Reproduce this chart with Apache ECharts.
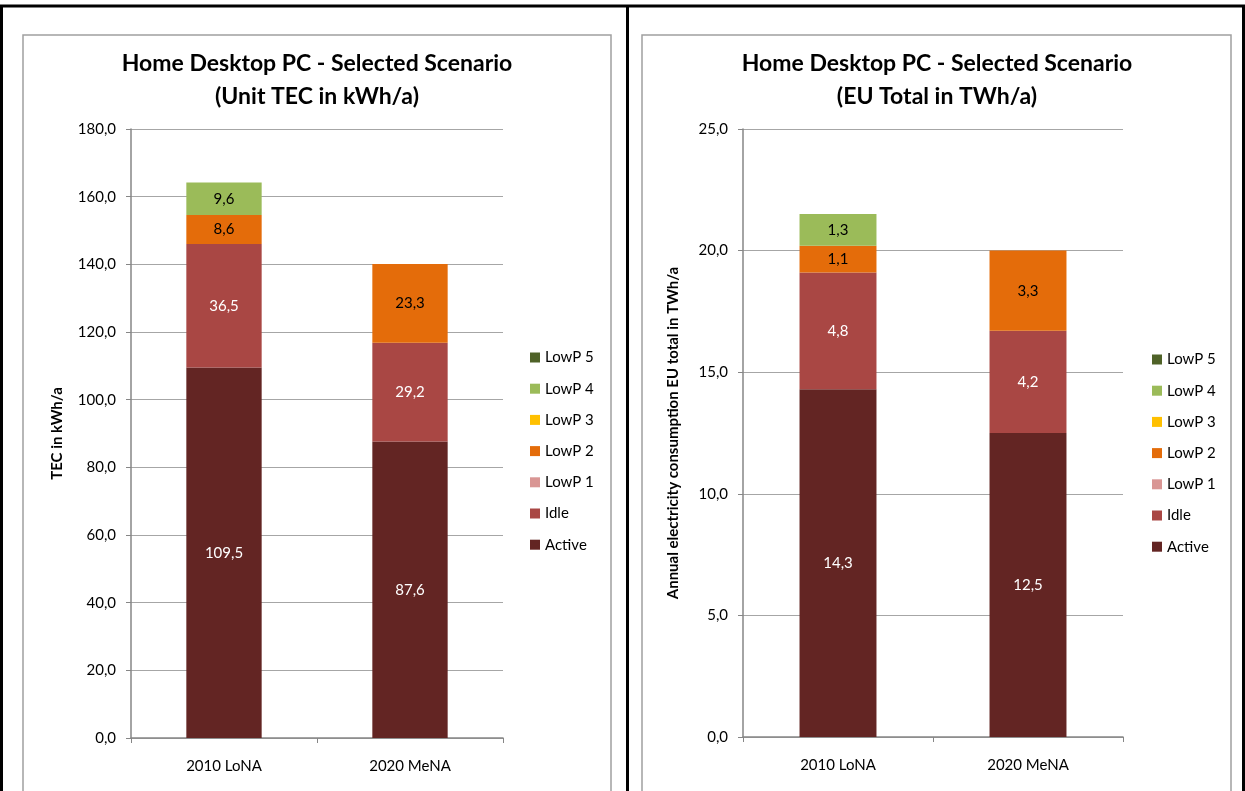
<!DOCTYPE html>
<html>
<head>
<meta charset="utf-8">
<script src="https://cdn.jsdelivr.net/npm/echarts@6/dist/echarts.min.js"></script>
<style>
  html, body { margin: 0; padding: 0; background: #fff; }
  #main { width: 1245px; height: 791px; }
</style>
</head>
<body>
<div id="main"></div>
<script>
// Scenario categories
const categories = ['2010 LoNA', '2020 MeNA'];

// Unit TEC in kWh/a per mode (bottom to top of each stack)
const unitActive = [109.5, 87.6];
const unitIdle   = [36.5, 29.2];
const unitLowP1  = [null, null];
const unitLowP2  = [8.6, 23.3];
const unitLowP3  = [null, null];
const unitLowP4  = [9.6, null];
const unitLowP5  = [null, null];

// EU total in TWh/a per mode
const euActive = [14.3, 12.5];
const euIdle   = [4.8, 4.2];
const euLowP1  = [null, null];
const euLowP2  = [1.1, 3.3];
const euLowP3  = [null, null];
const euLowP4  = [1.3, null];
const euLowP5  = [null, null];

// Axis ranges
const unitAxis = { min: 0, max: 180, interval: 20 };
const euAxis   = { min: 0, max: 25, interval: 5 };

const modeNames  = ['Active', 'Idle', 'LowP 1', 'LowP 2', 'LowP 3', 'LowP 4', 'LowP 5'];
const modeColors = ['#632523', '#A94744', '#D99694', '#E46C0A', '#FFC000', '#9BBB59', '#4F6228'];
const labelColors = ['#ffffff', '#ffffff', '#000000', '#000000', '#000000', '#000000', '#ffffff'];
const legendOrder = ['LowP 5', 'LowP 4', 'LowP 3', 'LowP 2', 'LowP 1', 'Idle', 'Active'];

const FONT = 'Lato, "Open Sans", sans-serif';
const fmt = v => v.toFixed(1).replace('.', ',');

function makeSeries(arrays, gridIdx, stackName) {
  return arrays.map((arr, i) => ({
    name: modeNames[i],
    type: 'bar',
    stack: stackName,
    xAxisIndex: gridIdx,
    yAxisIndex: gridIdx,
    barWidth: '40.5%',
    data: arr,
    itemStyle: { color: modeColors[i] },
    label: {
      show: true,
      position: 'inside',
      color: labelColors[i],
      fontFamily: FONT,
      fontSize: 15,
      formatter: p => (p.value == null ? '' : fmt(p.value))
    },
    emphasis: { disabled: true }
  }));
}

function yAxis(gridIdx, range, name, gap) {
  return {
    type: 'value',
    gridIndex: gridIdx,
    min: range.min, max: range.max, interval: range.interval,
    name: name,
    nameLocation: 'middle',
    nameRotate: 90,
    nameGap: gap,
    nameTextStyle: { fontFamily: FONT, fontWeight: 'bold', fontSize: 15, color: '#000' },
    axisLine: { show: true, lineStyle: { color: '#868686', width: 1.5 } },
    axisTick: { show: true, length: 5, lineStyle: { color: '#868686', width: 1 } },
    axisLabel: { formatter: fmt, fontFamily: FONT, fontSize: 15, color: '#000', margin: 15 },
    splitLine: { show: true, lineStyle: { color: '#A6A6A6', width: 1.2 } }
  };
}

function xAxis(gridIdx) {
  return {
    type: 'category',
    gridIndex: gridIdx,
    data: categories,
    axisLine: { show: true, lineStyle: { color: '#868686', width: 1.5 } },
    axisTick: { show: true, length: 5, lineStyle: { color: '#868686', width: 1 } },
    axisLabel: { fontFamily: FONT, fontSize: 15, color: '#000', margin: 21 }
  };
}

function legend(left, top) {
  return {
    orient: 'vertical',
    left: left, top: top,
    padding: 0,
    data: legendOrder,
    icon: 'rect',
    itemWidth: 10, itemHeight: 10,
    itemGap: 16.2,
    textStyle: { fontFamily: FONT, fontSize: 15, color: '#000' },
    selectedMode: false
  };
}

const titleStyle = { fontFamily: FONT, fontWeight: 'bold', fontSize: 23, color: '#000', lineHeight: 33 };

const chart = echarts.init(document.getElementById('main'), null, { renderer: 'canvas' });
chart.setOption({
  animation: false,
  backgroundColor: '#fff',
  title: [
    { text: 'Home Desktop PC - Selected Scenario\n(Unit TEC in kWh/a)', left: 317, top: 47, padding: 0, textAlign: 'center', textStyle: titleStyle },
    { text: 'Home Desktop PC - Selected Scenario\n(EU Total in TWh/a)', left: 937, top: 47, padding: 0, textAlign: 'center', textStyle: titleStyle }
  ],
  legend: [legend(530, 350), legend(1152, 352)],
  grid: [
    { left: 131, top: 129, width: 372, height: 609 },
    { left: 743, top: 129, width: 380, height: 608 }
  ],
  xAxis: [xAxis(0), xAxis(1)],
  yAxis: [
    yAxis(0, unitAxis, 'TEC in kWh/a', 66),
    yAxis(1, euAxis, 'Annual electricity consumption EU total in TWh/a', 62)
  ],
  series: [
    ...makeSeries([unitActive, unitIdle, unitLowP1, unitLowP2, unitLowP3, unitLowP4, unitLowP5], 0, 'unit'),
    ...makeSeries([euActive, euIdle, euLowP1, euLowP2, euLowP3, euLowP4, euLowP5], 1, 'eu')
  ],
  graphic: [
    // chart area frames
    { type: 'rect', shape: { x: 23, y: 35, width: 588, height: 800 }, style: { fill: null, stroke: '#A0A0A0', lineWidth: 1.5 }, silent: true },
    { type: 'rect', shape: { x: 642, y: 35, width: 589, height: 800 }, style: { fill: null, stroke: '#A0A0A0', lineWidth: 1.5 }, silent: true },
    // outer cell borders
    { type: 'line', shape: { x1: 0, y1: 6, x2: 1245, y2: 6 }, style: { stroke: '#000', lineWidth: 3 }, silent: true },
    { type: 'line', shape: { x1: 1.5, y1: 6, x2: 1.5, y2: 791 }, style: { stroke: '#000', lineWidth: 3 }, silent: true },
    { type: 'line', shape: { x1: 627.5, y1: 6, x2: 627.5, y2: 791 }, style: { stroke: '#000', lineWidth: 3 }, silent: true },
    { type: 'line', shape: { x1: 1243.5, y1: 6, x2: 1243.5, y2: 791 }, style: { stroke: '#000', lineWidth: 3 }, silent: true }
  ]
});
</script>
</body>
</html>
